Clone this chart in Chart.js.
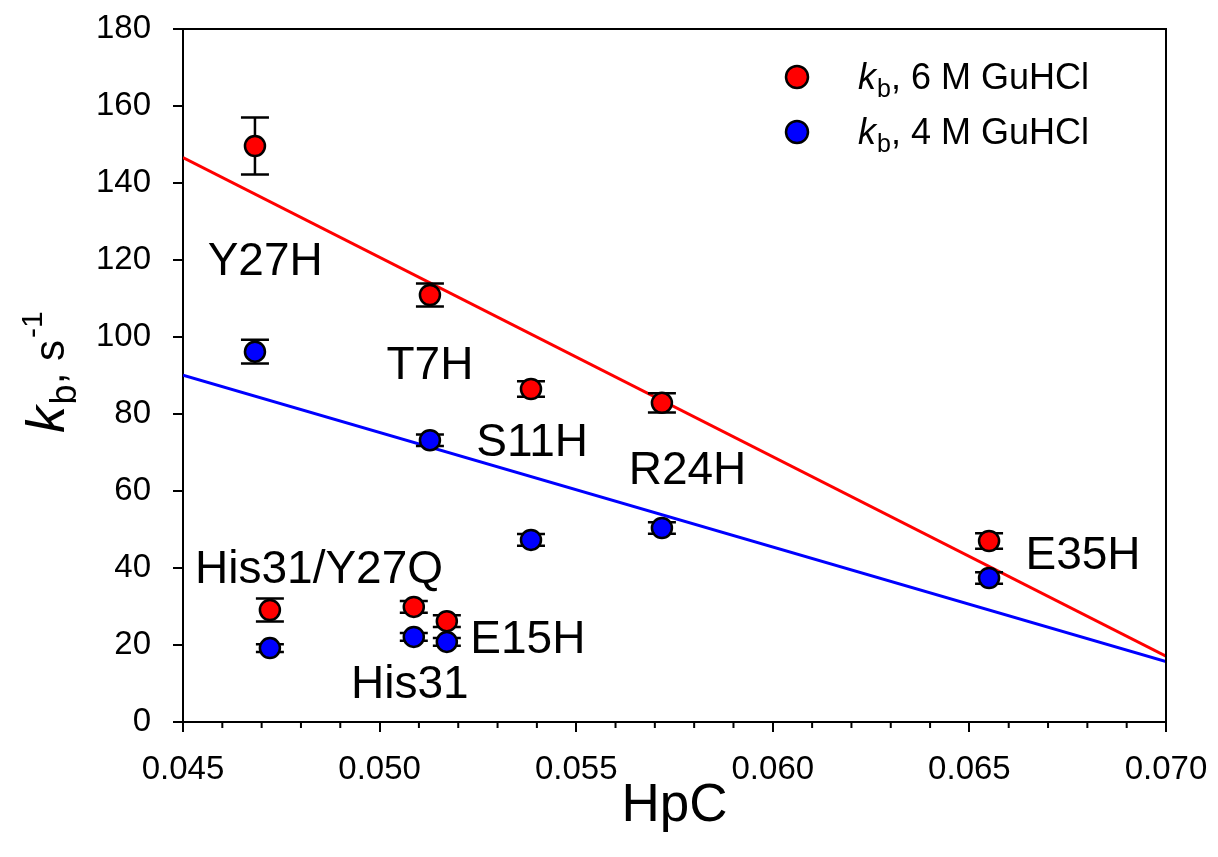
<!DOCTYPE html>
<html>
<head>
<meta charset="utf-8">
<script src="https://cdn.jsdelivr.net/npm/chart.js@4/dist/chart.umd.min.js"></script>
<style>
  body { margin: 0; background: #fff; }
  canvas { display: block; }
</style>
</head>
<body>
<canvas id="kbChart" width="1218" height="857"></canvas>
<script>
// values
var hpc    = [0.04683, 0.05128, 0.05385, 0.05718, 0.0655, 0.04721, 0.05087, 0.05171];
var kb6    = [149.6, 110.9, 86.5, 82.9, 47.0, 29.1, 29.9, 26.2];
var kb6Err = [7.4, 3.0, 2.0, 2.5, 2.0, 3.0, 1.5, 1.5];
var kb4    = [96.2, 73.2, 47.3, 50.4, 37.4, 19.2, 22.1, 20.8];
var kb4Err = [3.1, 1.5, 1.5, 1.5, 1.5, 1.0, 1.0, 1.0];

// linear fits (ends at the x axis limits)
var fitX = [0.045, 0.070];
var fit6 = [146.6, 17.1];
var fit4 = [90.1, 15.7];

var xTicks = [0.045, 0.050, 0.055, 0.060, 0.065, 0.070];
var yTicks = [0, 20, 40, 60, 80, 100, 120, 140, 160, 180];

var mutantNames = ["Y27H", "T7H", "S11H", "R24H", "E35H", "His31/Y27Q", "E15H", "His31"];
var nameX = [0.04709, 0.05128, 0.05388, 0.05783, 0.06789, 0.04846, 0.05377, 0.05077];
var nameY = [120.5, 93.5, 73.5, 66.0, 44.1, 40.5, 22.1, 10.4];

var FONT = "'Liberation Sans', Arial, Helvetica, sans-serif";

function pts(xs, ys) {
  return xs.map(function(x, i) { return { x: x, y: ys[i] }; });
}

// draws italic k with subscript b, returns the x after it
function drawKb(ctx, x, y, size, subSize) {
  ctx.textAlign = "left";
  ctx.textBaseline = "alphabetic";
  ctx.font = "italic " + size + "px " + FONT;
  ctx.fillText("k", x, y);
  x += ctx.measureText("k").width + size * 0.03;
  ctx.font = subSize + "px " + FONT;
  ctx.fillText("b", x, y + size * 0.22);
  x += ctx.measureText("b").width;
  return x;
}

var overlay = {
  id: "overlay",
  beforeDatasetDraw: function(chart, args) {
    var ds = chart.data.datasets[args.index];
    if (!ds.errors) return;
    var ctx = chart.ctx, xs = chart.scales.x, ys = chart.scales.y;
    ctx.save();
    ctx.strokeStyle = "#000";
    ctx.lineWidth = 2.5;
    ds.data.forEach(function(p, i) {
      var px = xs.getPixelForValue(p.x);
      var top = ys.getPixelForValue(p.y + ds.errors[i]);
      var bot = ys.getPixelForValue(p.y - ds.errors[i]);
      ctx.beginPath();
      ctx.moveTo(px, top); ctx.lineTo(px, bot);
      ctx.moveTo(px - 14, top); ctx.lineTo(px + 14, top);
      ctx.moveTo(px - 14, bot); ctx.lineTo(px + 14, bot);
      ctx.stroke();
    });
    ctx.restore();
  },
  afterDraw: function(chart) {
    var ctx = chart.ctx, a = chart.chartArea;
    var xs = chart.scales.x, ys = chart.scales.y;
    ctx.save();
    ctx.strokeStyle = "#000";
    ctx.lineWidth = 2;
    // top and right frame
    ctx.beginPath();
    ctx.moveTo(a.left, a.top); ctx.lineTo(a.right, a.top); ctx.lineTo(a.right, a.bottom);
    ctx.stroke();
    // minor x ticks
    ctx.beginPath();
    for (var v = 45; v <= 70; v++) {
      if (v % 5 === 0) continue;
      var px = xs.getPixelForValue(v / 1000);
      ctx.moveTo(px, a.bottom); ctx.lineTo(px, a.bottom + 6);
    }
    ctx.stroke();

    // mutant labels
    ctx.fillStyle = "#000";
    ctx.font = "46px " + FONT;
    ctx.textAlign = "center";
    ctx.textBaseline = "alphabetic";
    mutantNames.forEach(function(n, i) {
      ctx.fillText(n, xs.getPixelForValue(nameX[i]), ys.getPixelForValue(nameY[i]) + 16.5);
    });

    // legend
    var legend = [[", 6 M GuHCl", "#ff0000"], [", 4 M GuHCl", "#0000ff"]];
    legend.forEach(function(item, i) {
      var cy = 77 + i * 55;
      ctx.beginPath();
      ctx.arc(797, cy, 11, 0, Math.PI * 2);
      ctx.fillStyle = item[1];
      ctx.fill();
      ctx.lineWidth = 2.5;
      ctx.stroke();
      ctx.fillStyle = "#000";
      var x = drawKb(ctx, 858, cy + 12, 36, 25);
      ctx.font = "36px " + FONT;
      ctx.fillText(item[0], x, cy + 12);
    });

    // x title
    ctx.font = "53px " + FONT;
    ctx.textAlign = "center";
    ctx.fillText("HpC", (a.left + a.right) / 2, 821);

    // y title, rotated
    ctx.translate(64, 433);
    ctx.rotate(-Math.PI / 2);
    var x = drawKb(ctx, 0, 0, 54, 36);
    ctx.font = "42px " + FONT;
    ctx.fillText(", s", x, 0);
    x += ctx.measureText(", s").width;
    ctx.font = "30px " + FONT;
    ctx.fillText("-1", x + 2, -22);
    ctx.restore();
  }
};

var ctx = document.getElementById("kbChart");
var kbChart = new Chart(ctx, {
  type: "scatter",
  data: {
    datasets: [
      {
        label: "fit 6 M",
        type: "line",
        data: pts(fitX, fit6),
        borderColor: "#ff0000",
        borderWidth: 3,
        pointRadius: 0,
        fill: false,
        order: 3
      },
      {
        label: "fit 4 M",
        type: "line",
        data: pts(fitX, fit4),
        borderColor: "#0000ff",
        borderWidth: 3,
        pointRadius: 0,
        fill: false,
        order: 4
      },
      {
        label: "kb, 6 M GuHCl",
        data: pts(hpc, kb6),
        errors: kb6Err,
        backgroundColor: "#ff0000",
        borderColor: "#000",
        borderWidth: 2.5,
        pointRadius: 10,
        order: 1
      },
      {
        label: "kb, 4 M GuHCl",
        data: pts(hpc, kb4),
        errors: kb4Err,
        backgroundColor: "#0000ff",
        borderColor: "#000",
        borderWidth: 2.5,
        pointRadius: 10,
        order: 2
      }
    ]
  },
  options: {
    responsive: false,
    animation: false,
    layout: { padding: { top: 29, right: 52, left: 0, bottom: 0 } },
    plugins: { legend: { display: false }, tooltip: { enabled: false } },
    scales: {
      x: {
        type: "linear",
        min: 0.045,
        max: 0.070,
        afterBuildTicks: function(s) { s.ticks = xTicks.map(function(v) { return { value: v }; }); },
        afterFit: function(s) { s.height = 135; s.paddingLeft = 0; s.paddingRight = 0; },
        grid: { drawOnChartArea: false, tickLength: 10, color: "#000", lineWidth: 2 },
        border: { color: "#000", width: 2 },
        ticks: {
          color: "#000",
          padding: 18,
          maxRotation: 0,
          font: { family: FONT, size: 33 },
          callback: function(v) { return v.toFixed(3); }
        }
      },
      y: {
        min: 0,
        max: 180,
        afterBuildTicks: function(s) { s.ticks = yTicks.map(function(v) { return { value: v }; }); },
        afterFit: function(s) { s.width = 183; s.paddingTop = 0; s.paddingBottom = 0; },
        grid: { drawOnChartArea: false, tickLength: 10, color: "#000", lineWidth: 2 },
        border: { color: "#000", width: 2 },
        ticks: {
          color: "#000",
          padding: 22,
          font: { family: FONT, size: 33 }
        }
      }
    }
  },
  plugins: [overlay]
});
</script>
</body>
</html>
